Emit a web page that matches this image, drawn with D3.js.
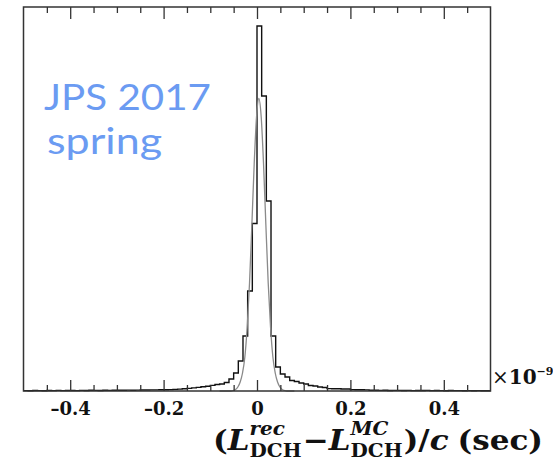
<!DOCTYPE html>
<html><head><meta charset="utf-8">
<script src="https://cdn.jsdelivr.net/npm/d3@7"></script>
<style>body{margin:0;background:#fff} svg{display:block}</style>
</head><body>
<svg id="chart" width="553" height="466"></svg>
<script>
// Track-length residual of the drift chamber, (L_rec - L_MC)/c, in units of 1e-9 s
const binWidth = 0.01;
const xDomain = [-0.5, 0.5];

// entries per bin, bins of 0.01 starting at -0.5
const counts = [
  4, 3, 5, 4, 3, 5, 4, 6, 4, 5,
  5, 4, 6, 5, 7, 6, 5, 7, 6, 8,
  7, 8, 9, 8, 9, 10, 10, 11, 11, 12,
  13, 14, 16, 19, 22, 26, 31, 36, 42, 48,
  56, 65, 70, 85, 120, 180, 300, 550, 1000, 1675,
  3650, 2950, 1900, 550, 240, 170, 140, 105, 95, 80,
  70, 55, 50, 40, 35, 24, 22, 22, 20, 20,
  14, 12, 12, 11, 8, 7, 6, 7, 5, 6,
  6, 5, 6, 4, 5, 5, 6, 4, 5, 4,
  3, 5, 4, 4, 3, 4, 3, 4, 3, 3
];

// fitted resolution curve, sampled points
const fitX = [-0.08, -0.056, -0.051, -0.046, -0.041, -0.036, -0.031, -0.026, -0.021, -0.016, -0.011, -0.006, -0.001,
              0.004, 0.009, 0.014, 0.019, 0.024, 0.029, 0.034, 0.039, 0.044, 0.049, 0.054, 0.059, 0.064, 0.08];
const fitY = [0, 0, 5, 15, 40, 90, 180, 340, 640, 1080, 1660, 2270, 2740,
              2925, 2740, 2270, 1660, 1080, 640, 340, 180, 90, 40, 15, 5, 0, 0];

const majorTicks = [-0.4, -0.2, 0, 0.2, 0.4];
const majorTickLabels = ["\u20130.4", "\u20130.2", "0", "0.2", "0.4"];
const minorTicks = [-0.45, -0.35, -0.3, -0.25, -0.15, -0.1, -0.05, 0.05, 0.1, 0.15, 0.25, 0.3, 0.35, 0.45];
const yMax = 3840;

const svg = d3.select("#chart");
const frame = {left: 23.5, right: 490.5, top: 7, bottom: 391};
const serif = "'DejaVu Serif', 'Liberation Serif', serif";

const x = d3.scaleLinear().domain(xDomain).range([frame.left, frame.right]);
const y = d3.scaleLinear().domain([0, yMax]).range([frame.bottom, frame.top]);

// histogram as a step outline
const steps = counts.map((c, i) => ({x: xDomain[0] + i * binWidth, y: c}));
steps.push({x: xDomain[1], y: counts[counts.length - 1]});
const stepLine = d3.line().x(d => x(d.x)).y(d => y(d.y)).curve(d3.curveStepAfter);

svg.append("path")
  .datum(steps)
  .attr("d", stepLine)
  .attr("fill", "none")
  .attr("stroke", "#111")
  .attr("stroke-width", 1.4);

// fit curve
const fitPts = fitX.map((v, i) => [v, fitY[i]]);
svg.append("path")
  .datum(fitPts)
  .attr("d", d3.line().x(d => x(d[0])).y(d => y(d[1])).curve(d3.curveMonotoneX))
  .attr("fill", "none")
  .attr("stroke", "#8a8a8a")
  .attr("stroke-width", 1.3);

// frame
svg.append("rect")
  .attr("x", frame.left).attr("y", frame.top)
  .attr("width", frame.right - frame.left).attr("height", frame.bottom - frame.top)
  .attr("fill", "none").attr("stroke", "#333").attr("stroke-width", 1.5);

function styleAxis(g) {
  g.select(".domain").remove();
  g.selectAll(".tick line").attr("stroke", "#333").attr("stroke-width", 1.3);
}

// bottom axis: inward ticks with labels
const bottomMajor = d3.axisBottom(x).tickValues(majorTicks)
  .tickFormat((d, i) => majorTickLabels[i]).tickSize(-11).tickSizeOuter(0).tickPadding(11);
const gb = svg.append("g").attr("transform", `translate(0,${frame.bottom})`).call(bottomMajor);
styleAxis(gb);
gb.selectAll(".tick text")
  .attr("font-family", serif)
  .attr("font-weight", "bold").attr("font-size", 18).attr("fill", "#111");

const bottomMinor = d3.axisBottom(x).tickValues(minorTicks).tickFormat("").tickSize(-6).tickSizeOuter(0);
styleAxis(svg.append("g").attr("transform", `translate(0,${frame.bottom})`).call(bottomMinor));

// top axis mirrors the ticks
const topMajor = d3.axisTop(x).tickValues(majorTicks).tickFormat("").tickSize(-12).tickSizeOuter(0);
styleAxis(svg.append("g").attr("transform", `translate(0,${frame.top})`).call(topMajor));
const topMinor = d3.axisTop(x).tickValues(minorTicks).tickFormat("").tickSize(-6).tickSizeOuter(0);
styleAxis(svg.append("g").attr("transform", `translate(0,${frame.top})`).call(topMinor));

// exponent of the x axis
const expo = svg.append("text")
  .attr("x", 492).attr("y", 384)
  .attr("font-family", serif)
  .attr("font-size", 20).attr("fill", "#111");
expo.append("tspan").text("\u00d7");
expo.append("tspan").attr("font-weight", "bold").text("10");
expo.append("tspan").attr("font-weight", "bold").attr("font-size", 11).attr("dy", -9).text("\u22129");

// axis title: (L^rec_DCH − L^MC_DCH)/c (sec)
const titleG = svg.append("g");
const base = 450;
let cx = 213;
function run(txt, opts = {}) {
  const t = titleG.append("text")
    .attr("x", cx).attr("y", base + (opts.dy || 0))
    .attr("font-family", serif).attr("font-weight", "bold")
    .attr("font-style", opts.italic ? "italic" : "normal")
    .attr("font-size", opts.size || 28).attr("fill", "#111")
    .text(txt);
  const w = t.node().getComputedTextLength();
  if (!opts.noAdvance) cx += w;
  return w;
}
function stack(sup, sub) {
  const start = cx;
  const w1 = run(sup, {italic: true, size: 18, dy: -15, noAdvance: true});
  const w2 = run(sub, {size: 18, dy: 7, noAdvance: true});
  cx = start + Math.max(w1, w2) + 1;
}
run("(");
run("L", {italic: true});
stack("rec", "DCH");
run("\u2212");
run("L", {italic: true});
stack("MC", "DCH");
run(")/");
run("c", {italic: true});
cx += 8;
run("(sec)");
const totalW = cx - 213;
const s = 330 / totalW;
titleG.attr("transform", `translate(213,0) scale(${s},1) translate(-213,0)`);

// conference stamp
const stamp = svg.append("text")
  .attr("font-family", "Lato, 'Open Sans', sans-serif")
  .attr("font-size", 37).attr("fill", "#6b9bf2");
stamp.append("tspan").attr("x", 44).attr("y", 110)
  .attr("textLength", 167).attr("lengthAdjust", "spacingAndGlyphs").text("JPS 2017");
stamp.append("tspan").attr("x", 47).attr("y", 154)
  .attr("textLength", 115).attr("lengthAdjust", "spacingAndGlyphs").text("spring");
</script>
</body></html>
